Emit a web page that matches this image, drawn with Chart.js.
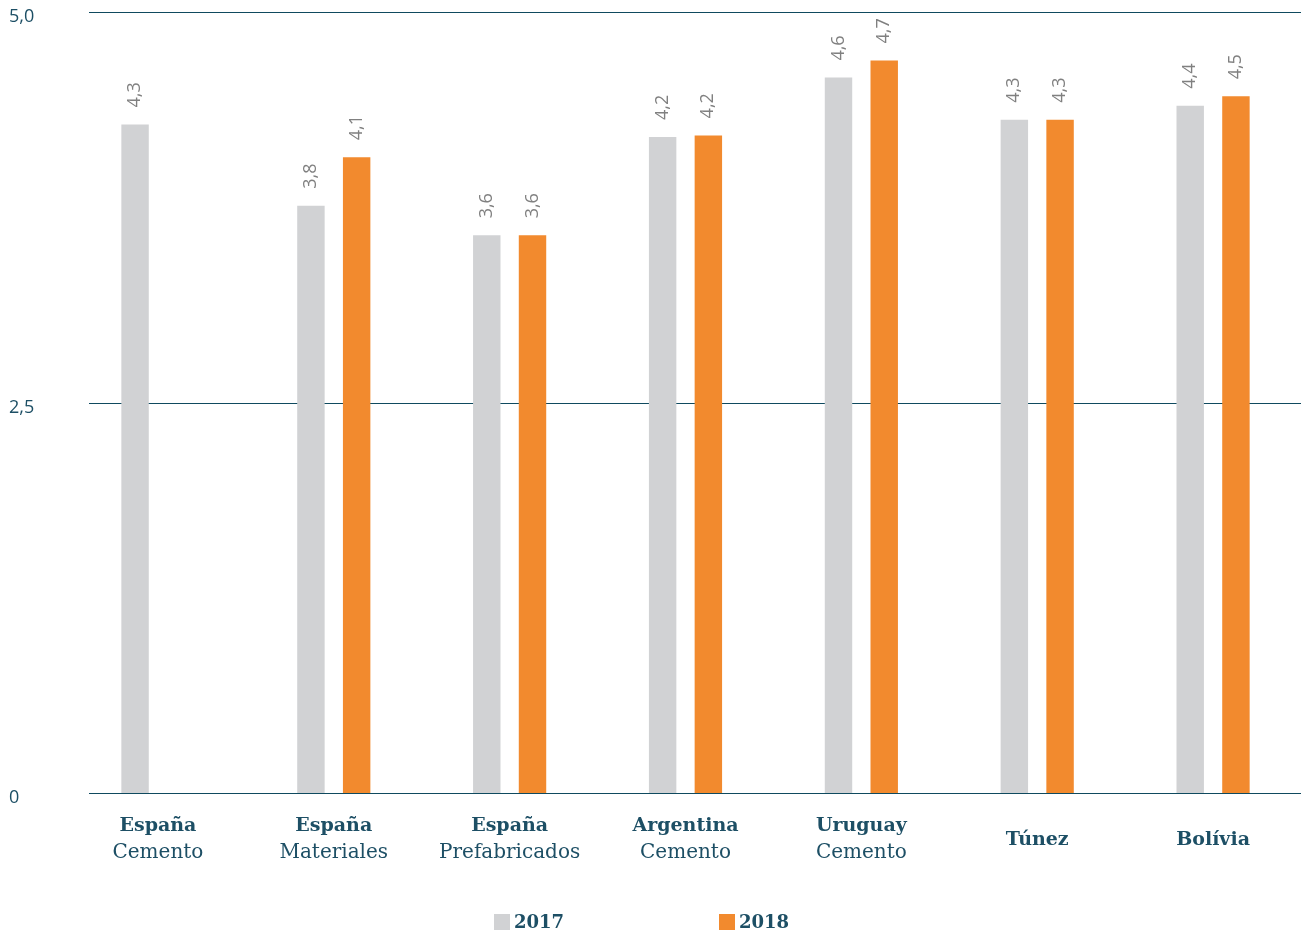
<!DOCTYPE html>
<html>
<head>
<meta charset="utf-8">
<script src="https://cdn.jsdelivr.net/npm/chart.js@4/dist/chart.umd.min.js"></script>
<style>
  html, body { margin: 0; padding: 0; background: #fff; }
  #wrap { position: relative; width: 1308px; height: 931px; }
  #legend { position: absolute; top: 911px; left: 0; width: 1308px; height: 20px;
    font: bold 18px "DejaVu Serif", serif; color: #1d4f65; }
  .item { position: absolute; top: 0; display: flex; align-items: center; }
  .sw { width: 16px; height: 16px; margin-right: 4px; }
</style>
</head>
<body>
<div id="wrap">
  <canvas id="chart" width="1308" height="931"></canvas>
  <div id="legend"></div>
</div>
<script>
// --- Data ---
const groupNames = ['España', 'España', 'España', 'Argentina', 'Uruguay', 'Túnez', 'Bolívia'];
const subNames = ['Cemento', 'Materiales', 'Prefabricados', 'Cemento', 'Cemento', '', ''];
const seriesNames = ['2017', '2018'];
const values2017 = [4.28, 3.76, 3.57, 4.2, 4.58, 4.31, 4.4];
const values2018 = [null, 4.07, 3.57, 4.21, 4.69, 4.31, 4.46];
const yTicks = [0, 2.5, 5];

const textColor = '#1d4f65';
const gridColor = '#0f4a5f';
const seriesColors = ['#d1d2d4', '#f28a2e'];

const fmt = v => v === 0 ? '0' : v.toFixed(1).replace('.', ',');

// grid lines, y tick labels, two-line x labels and bar value labels
const decorations = {
    id: 'decorations',
    beforeDatasetsDraw(chart) {
        const { ctx, scales: { y }, chartArea } = chart;
        ctx.save();
        ctx.strokeStyle = gridColor;
        ctx.lineWidth = 1;
        yTicks.forEach(t => {
            const py = Math.round(y.getPixelForValue(t)) + 0.5;
            ctx.beginPath();
            ctx.moveTo(89, py);
            ctx.lineTo(chartArea.right, py);
            ctx.stroke();
        });
        ctx.restore();
    },
    afterDatasetsDraw(chart) {
        const { ctx, scales: { x, y } } = chart;
        ctx.save();
        // y labels
        ctx.fillStyle = textColor;
        ctx.font = '18px "Open Sans", sans-serif';
        ctx.textAlign = 'left';
        ctx.textBaseline = 'middle';
        yTicks.forEach(t => {
            ctx.fillText(fmt(t), 9, y.getPixelForValue(t) + 5);
        });
        // x labels
        ctx.textAlign = 'center';
        groupNames.forEach((name, i) => {
            const px = x.getPixelForValue(i);
            if (subNames[i]) {
                ctx.font = 'bold 19px "DejaVu Serif", serif';
                ctx.fillText(name, px, 826);
                ctx.font = '20px "DejaVu Serif", serif';
                ctx.fillText(subNames[i], px, 853);
            } else {
                ctx.font = 'bold 19px "DejaVu Serif", serif';
                ctx.fillText(name, px, 840);
            }
        });
        // value labels
        ctx.fillStyle = '#808080';
        ctx.font = '18px "Open Sans", sans-serif';
        ctx.textAlign = 'left';
        chart.data.datasets.forEach((ds, di) => {
            chart.getDatasetMeta(di).data.forEach((bar, i) => {
                const v = ds.data[i];
                if (v == null) return;
                ctx.save();
                ctx.translate(bar.x, bar.y - 17);
                ctx.rotate(-Math.PI / 2);
                ctx.fillText(fmt(v), 0, 0);
                ctx.restore();
            });
        });
        ctx.restore();
    }
};

new Chart(document.getElementById('chart').getContext('2d'), {
    type: 'bar',
    data: {
        labels: groupNames,
        datasets: [
            { label: seriesNames[0], data: values2017, backgroundColor: seriesColors[0] },
            { label: seriesNames[1], data: values2018, backgroundColor: seriesColors[1] }
        ]
    },
    options: {
        responsive: false,
        animation: false,
        layout: { padding: { top: 12, right: 7, left: 0, bottom: 0 } },
        datasets: { bar: { categoryPercentage: 0.52, barPercentage: 0.6 } },
        plugins: { legend: { display: false }, tooltip: { enabled: false } },
        scales: {
            x: {
                grid: { display: false },
                border: { display: false },
                ticks: { display: false },
                afterFit: s => { s.height = 138; }
            },
            y: {
                min: 0,
                max: 5,
                grid: { display: false },
                border: { display: false },
                ticks: { display: false },
                afterFit: s => { s.width = 70; }
            }
        }
    },
    plugins: [decorations]
});

// legend
const legend = document.getElementById('legend');
const legendX = [494, 719];
seriesNames.forEach((name, i) => {
    const item = document.createElement('div');
    item.className = 'item';
    item.style.left = legendX[i] + 'px';
    item.innerHTML = `<span class="sw" style="background:${seriesColors[i]}"></span><span>${name}</span>`;
    legend.appendChild(item);
});
</script>
</body>
</html>
